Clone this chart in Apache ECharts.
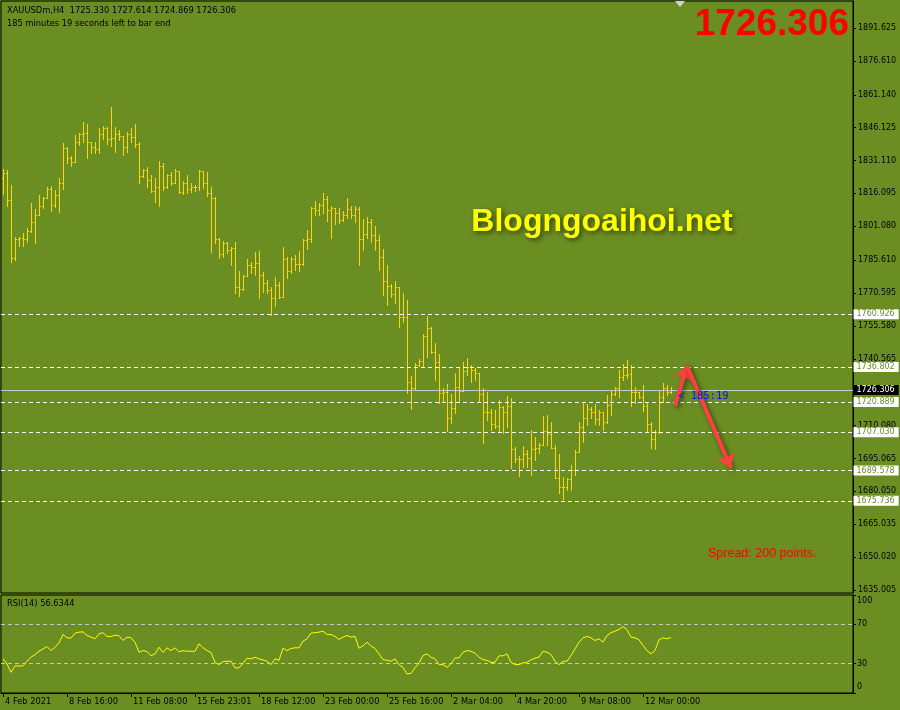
<!DOCTYPE html>
<html><head><meta charset="utf-8">
<script src="https://cdn.jsdelivr.net/npm/echarts@6/dist/echarts.min.js"></script>
<style>html,body{margin:0;padding:0;background:#6b8e23}#c{width:900px;height:710px}</style>
</head><body><div id="c"></div><script>
const symbolName = 'XAUUSDm,H4';
const xTickLabels = ['4 Feb 2021','8 Feb 16:00','11 Feb 08:00','15 Feb 23:01','18 Feb 12:00','23 Feb 00:00','25 Feb 16:00','2 Mar 04:00','4 Mar 20:00','9 Mar 08:00','12 Mar 00:00'];
const priceTicks = [1891.625,1876.610,1861.140,1846.125,1831.110,1816.095,1801.080,1785.610,1770.595,1755.580,1740.565,1725.550,1710.080,1695.065,1680.050,1665.035,1650.020,1635.005];
const rsiTicks = [100,70,30,0];
const levels = [1760.926,1736.802,1720.889,1707.030,1689.578,1675.736];
const rsiLevels = [70,30];
const opens = [1823.00,1825.28,1812.95,1786.74,1795.14,1795.87,1795.14,1798.79,1802.90,1806.24,1810.21,1814.14,1817.97,1810.80,1815.37,1820.71,1836.69,1832.13,1830.57,1839.43,1843.09,1843.54,1839.43,1837.42,1836.24,1843.09,1845.83,1840.94,1841.26,1843.09,1842.17,1837.42,1843.09,1841.72,1838.66,1824.18,1826.65,1822.08,1817.33,1818.89,1828.47,1819.16,1824.50,1820.98,1826.47,1816.88,1820.71,1817.97,1818.89,1818.89,1826.19,1820.71,1816.15,1813.86,1795.14,1788.29,1793.31,1790.25,1791.03,1773.50,1772.31,1778.38,1783.27,1782.36,1784.18,1778.70,1775.32,1771.99,1768.20,1774.14,1768.93,1786.01,1780.67,1786.28,1783.73,1783.73,1794.82,1795.14,1809.30,1808.52,1810.80,1813.41,1808.52,1809.30,1807.01,1803.95,1806.24,1808.98,1806.24,1808.84,1795.14,1797.42,1803.18,1797.10,1794.82,1786.92,1776.10,1773.82,1770.03,1773.22,1759.53,1759.80,1730.12,1727.38,1737.74,1739.57,1751.12,1754.50,1743.82,1738.98,1724.82,1725.28,1713.41,1717.97,1727.56,1725.87,1735.00,1736.97,1735.46,1733.95,1724.50,1716.28,1716.15,1710.67,1709.89,1718.43,1716.28,1719.02,1699.39,1694.68,1694.68,1696.97,1695.14,1699.39,1699.71,1701.21,1707.74,1706.10,1699.71,1686.15,1681.90,1682.17,1685.55,1689.80,1697.88,1709.30,1713.41,1717.52,1716.28,1713.09,1716.42,1711.85,1719.48,1724.50,1727.10,1732.13,1733.18,1733.50,1725.55,1725.55,1723.00,1719.16,1710.67,1703.81,1707.29,1723.00,1727.38,1725.330];
const highs = [1827.24,1826.78,1819.94,1796.05,1796.33,1798.02,1800.44,1811.85,1808.98,1815.37,1814.46,1819.02,1819.62,1817.65,1822.99,1838.98,1837.15,1833.31,1842.77,1843.54,1848.56,1847.65,1839.71,1839.71,1845.83,1846.88,1846.56,1855.55,1846.28,1845.05,1842.45,1844.00,1845.96,1847.79,1839.43,1827.24,1828.29,1824.50,1822.99,1830.89,1830.12,1824.96,1825.87,1827.10,1826.47,1821.76,1824.50,1820.71,1820.07,1826.78,1826.47,1825.87,1818.89,1814.32,1795.87,1794.50,1794.05,1791.49,1794.05,1780.67,1778.84,1786.15,1784.91,1789.48,1789.94,1780.07,1776.56,1773.50,1778.06,1775.78,1791.49,1787.20,1786.92,1787.97,1789.94,1795.14,1799.39,1810.03,1812.77,1811.85,1816.42,1814.91,1810.35,1808.52,1809.30,1808.20,1813.86,1810.35,1810.35,1810.03,1804.27,1805.46,1804.27,1801.21,1797.10,1790.57,1783.41,1774.73,1776.24,1773.50,1770.48,1767.42,1732.72,1738.52,1740.35,1751.90,1760.12,1754.96,1747.65,1742.77,1727.24,1729.07,1724.50,1733.95,1736.24,1738.98,1740.80,1737.74,1736.24,1734.23,1727.10,1725.28,1717.52,1717.20,1721.76,1719.16,1723.59,1722.54,1700.44,1696.19,1700.76,1698.93,1708.06,1704.73,1701.99,1714.46,1714.91,1711.85,1701.21,1697.11,1686.74,1686.01,1692.08,1698.93,1711.85,1720.99,1719.94,1718.70,1719.94,1717.20,1715.96,1724.05,1726.33,1727.83,1735.46,1738.20,1740.03,1737.74,1727.83,1725.55,1728.61,1720.26,1711.85,1708.06,1725.87,1729.39,1728.61,1727.614];
const lows = [1815.83,1810.48,1784.91,1785.69,1792.22,1792.22,1794.05,1798.34,1793.59,1806.24,1809.57,1815.37,1808.06,1810.03,1807.74,1818.11,1829.84,1828.75,1830.57,1838.20,1839.71,1832.13,1834.41,1834.41,1834.41,1840.80,1838.79,1837.74,1835.00,1840.48,1833.77,1835.14,1839.71,1837.42,1820.99,1823.45,1819.16,1816.60,1812.31,1810.48,1817.65,1818.43,1819.94,1820.71,1816.42,1815.96,1816.15,1816.88,1817.20,1817.65,1818.43,1814.91,1789.48,1793.31,1786.46,1787.20,1788.75,1783.41,1770.48,1769.39,1771.99,1778.84,1779.61,1778.84,1768.47,1771.21,1770.48,1760.57,1764.82,1768.20,1768.93,1777.33,1779.89,1781.12,1780.80,1783.41,1790.57,1794.05,1806.24,1806.24,1807.01,1803.50,1795.60,1801.99,1802.45,1803.63,1804.73,1804.73,1802.90,1783.41,1790.25,1795.60,1794.05,1790.25,1781.12,1769.71,1765.14,1768.93,1765.92,1755.23,1757.52,1724.82,1717.52,1726.65,1737.29,1737.29,1741.53,1743.09,1730.89,1720.53,1720.99,1707.74,1711.12,1715.69,1720.71,1726.33,1733.18,1730.12,1730.89,1721.44,1701.99,1712.63,1708.06,1708.84,1707.29,1706.55,1709.57,1690.57,1693.59,1687.06,1691.30,1691.30,1687.52,1694.36,1697.70,1706.55,1701.21,1699.71,1686.01,1679.43,1676.56,1680.67,1680.67,1687.52,1698.15,1702.72,1710.35,1713.41,1710.80,1710.35,1708.06,1711.12,1714.91,1724.05,1723.27,1730.89,1731.67,1719.02,1720.53,1722.54,1716.88,1707.61,1699.71,1699.39,1706.55,1720.99,1724.05,1724.869];
const closes = [1825.28,1812.95,1786.74,1795.14,1795.87,1795.14,1798.79,1802.90,1806.24,1810.21,1814.14,1817.97,1810.80,1815.37,1820.71,1836.69,1832.13,1830.57,1839.43,1843.09,1843.54,1839.43,1837.42,1836.24,1843.09,1845.83,1840.94,1841.26,1843.09,1842.17,1837.42,1843.09,1841.72,1838.66,1824.18,1826.65,1822.08,1817.33,1818.89,1828.47,1819.16,1824.50,1820.98,1826.47,1816.88,1820.71,1817.97,1818.89,1818.89,1826.19,1820.71,1816.15,1813.86,1795.14,1788.29,1793.31,1790.25,1791.03,1773.50,1772.31,1778.38,1783.27,1782.36,1784.18,1778.70,1775.32,1771.99,1768.20,1774.14,1768.93,1786.01,1780.67,1786.28,1783.73,1783.73,1794.82,1795.14,1809.30,1808.52,1810.80,1813.41,1808.52,1809.30,1807.01,1803.95,1806.24,1808.98,1806.24,1808.84,1795.14,1797.42,1803.18,1797.10,1794.82,1786.92,1776.10,1773.82,1770.03,1773.22,1759.53,1759.80,1730.12,1727.38,1737.74,1739.57,1751.12,1754.50,1743.82,1738.98,1724.82,1725.28,1713.41,1717.97,1727.56,1725.87,1735.00,1736.97,1735.46,1733.95,1724.50,1716.28,1716.15,1710.67,1709.89,1718.43,1716.28,1719.02,1699.39,1694.68,1694.68,1696.97,1695.14,1699.39,1699.71,1701.21,1707.74,1706.10,1699.71,1686.15,1681.90,1682.17,1685.55,1689.80,1697.88,1709.30,1713.41,1717.52,1716.28,1713.09,1716.42,1711.85,1719.48,1724.50,1727.10,1732.13,1733.18,1733.50,1725.55,1725.55,1723.00,1719.16,1710.67,1703.81,1707.29,1723.00,1727.38,1725.33,1726.306];
const rsi = [34.8,29.7,21.1,27.6,27.6,27.6,32.4,36.5,39.2,42.6,45.0,47.4,43.3,46.7,51.2,59.7,56.3,56.0,61.1,62.1,62.4,58.7,57.0,55.3,60.4,61.5,57.7,57.7,59.0,58.4,53.6,57.0,56.3,51.8,41.6,43.3,42.3,37.9,39.9,46.7,41.3,46.1,43.3,46.1,42.0,43.3,42.6,42.6,42.6,50.2,46.1,43.3,41.3,31.3,29.0,32.1,32.4,32.4,25.6,25.6,30.3,35.5,34.8,36.5,34.8,33.8,32.4,29.0,34.8,33.4,45.7,43.3,45.4,46.1,46.1,52.9,55.3,61.1,61.5,62.1,63.1,59.7,59.7,57.7,54.6,57.0,58.7,57.0,57.7,45.7,48.1,51.8,48.1,45.4,39.9,34.1,33.4,32.4,34.8,29.0,26.2,19.4,20.1,25.6,30.7,38.2,39.9,36.5,34.8,29.0,29.0,26.2,29.7,35.8,35.8,41.6,43.3,42.6,40.6,36.5,34.1,33.4,31.3,31.3,37.9,37.9,39.9,31.3,29.0,29.0,30.7,31.3,33.8,35.5,36.5,42.6,41.6,39.2,32.4,29.0,32.4,32.4,38.2,45.0,51.8,56.3,57.7,56.3,53.6,55.3,51.8,58.7,61.5,63.1,64.9,67.9,64.6,57.0,56.3,54.3,48.5,43.3,39.9,43.3,54.3,56.3,55.3,56.6344];
const arrowUp = [[167.7,1719.16],[170.7,1737.29]];
const arrowDown = [[170.7,1737.29],[182.2,1690.71]];
const countdownText = '< 185:19';

const N_CATS = 213;
const last = closes.length - 1;
const categories = Array.from({length: N_CATS}, (_, i) => (i % 16 === 0 && xTickLabels[i / 16]) ? xTickLabels[i / 16] : '');
const ohlc = closes.map((c, i) => [i, opens[i], highs[i], lows[i], c]);
const AX_FONT = 'DejaVu Sans';
const BAR = '#ffd700';

function renderBar(params, api) {
  const i = api.value(0), o = api.value(1), h = api.value(2), l = api.value(3), c = api.value(4);
  const hi = Math.max(h, o, c), lo = Math.min(l, o, c);
  const pH = api.coord([i, hi]), pL = api.coord([i, lo]);
  const x = Math.floor(pH[0]);
  const yH = Math.round(pH[1]), yL = Math.round(pL[1]);
  const yO = Math.round(api.coord([i, o])[1]), yC = Math.round(api.coord([i, c])[1]);
  const style = {fill: BAR};
  return {type: 'group', children: [
    {type: 'rect', shape: {x: x, y: yH, width: 1, height: Math.max(1, yL - yH + 1)}, style: style},
    {type: 'rect', shape: {x: x - 1, y: yO, width: 1, height: 1}, style: style},
    {type: 'rect', shape: {x: x + 1, y: yC, width: 1, height: 1}, style: style}
  ]};
}
const tickShown = (idx, val) => val !== '';
function levelLabel(v, bg, fg) {
  const txt = v.toFixed(3);
  return {show: true, position: 'end', distance: 0.5, formatter: () => txt,
    backgroundColor: bg, color: fg, fontSize: 8, fontFamily: AX_FONT, lineHeight: 9, padding: [1, 4, 0, 3]};
}

const chart = echarts.init(document.getElementById('c'), null, {renderer: 'canvas'});
chart.setOption({
  animation: false,
  backgroundColor: '#6b8e23',
  grid: [
    {left: 1, top: 1, width: 852, height: 592, show: true, borderColor: '#000', borderWidth: 1, backgroundColor: 'transparent'},
    {left: 1, top: 595, width: 852, height: 98, show: true, borderColor: '#000', borderWidth: 1, backgroundColor: 'transparent'}
  ],
  xAxis: [
    {type: 'category', gridIndex: 0, data: categories, boundaryGap: true, axisLine: {show: false}, axisTick: {show: false}, axisLabel: {show: false}, splitLine: {show: false}},
    {type: 'category', gridIndex: 1, data: categories, boundaryGap: true,
      axisLine: {show: true, lineStyle: {color: '#000', width: 1}},
      axisTick: {show: true, alignWithLabel: true, interval: tickShown, length: 4, lineStyle: {color: '#000'}},
      axisLabel: {show: true, interval: tickShown, align: 'left', margin: 5, padding: [0, 0, 0, 2], color: '#000', fontSize: 8.3, fontFamily: AX_FONT},
      splitLine: {show: false}}
  ],
  yAxis: [
    {type: 'value', gridIndex: 0, position: 'right', min: 1633.634, max: 1903.954, scale: true,
      axisLine: {show: true, lineStyle: {color: '#000'}},
      axisTick: {show: true, length: 3, customValues: priceTicks, lineStyle: {color: '#000'}},
      axisLabel: {show: true, customValues: priceTicks, margin: 5, color: '#000', fontSize: 8, fontFamily: AX_FONT, formatter: v => Number(v).toFixed(3)},
      splitLine: {show: false}},
    {type: 'value', gridIndex: 1, position: 'right', min: 0, max: 100,
      axisLine: {show: true, lineStyle: {color: '#000'}},
      axisTick: {show: true, length: 3, customValues: rsiTicks, lineStyle: {color: '#000'}},
      axisLabel: {show: true, customValues: rsiTicks, margin: 4, color: '#000', fontSize: 8, fontFamily: AX_FONT,
        formatter: v => v === 100 ? '{t|100}' : (v === 0 ? '{b|0}' : '{m|' + v + '}'),
        rich: {t: {padding: [12, 0, 0, 0], fontSize: 8, fontFamily: AX_FONT, color: '#000'}, b: {padding: [0, 0, 12, 0], fontSize: 8, fontFamily: AX_FONT, color: '#000'}, m: {fontSize: 8, fontFamily: AX_FONT, color: '#000'}}},
      splitLine: {show: false}}
  ],
  series: [
    {type: 'custom', name: 'price', xAxisIndex: 0, yAxisIndex: 0, data: ohlc, renderItem: renderBar, encode: {x: 0, y: [1, 2, 3, 4]}, clip: true, silent: true, z: 2},
    {type: 'line', name: 'levels', xAxisIndex: 0, yAxisIndex: 0, data: closes, showSymbol: false, symbol: 'none', silent: true,
      lineStyle: {opacity: 0}, z: 1,
      markLine: {silent: true, symbol: ['none', 'none'], animation: false, precision: 3,
        data: levels.map(v => ({yAxis: v, lineStyle: {color: '#ffffff', type: [4, 3], width: 1}, label: levelLabel(v, '#ffffff', '#6b8e23')})).concat([
          {yAxis: closes[last], lineStyle: {color: '#c8c8c8', type: 'solid', width: 1}, label: levelLabel(closes[last], '#000000', '#ffffff')}
        ])},
      markPoint: {silent: true, symbol: 'circle', symbolSize: 0, animation: false,
        data: [{coord: [last, closes[last]], label: {show: true, position: 'right', distance: 7, offset: [0, 6], formatter: countdownText,
          color: '#1010ff', fontSize: 10.5, fontFamily: 'DejaVu Sans Mono'}}]}
    },
    {type: 'line', name: 'arrows', xAxisIndex: 0, yAxisIndex: 0, data: closes, showSymbol: false, symbol: 'none', silent: true,
      lineStyle: {opacity: 0}, z: 5,
      markLine: {silent: true, symbol: ['none', 'arrow'], symbolSize: 14, animation: false, label: {show: false},
        lineStyle: {color: '#ff4040', width: 4, type: 'solid', shadowBlur: 5, shadowColor: 'rgba(0,0,0,0.55)', shadowOffsetX: 2, shadowOffsetY: 2},
        data: [
          [{coord: arrowUp[0]}, {coord: arrowUp[1]}],
          [{coord: arrowDown[0]}, {coord: arrowDown[1]}]
        ]}
    },
    {type: 'line', name: 'RSI(14)', xAxisIndex: 1, yAxisIndex: 1, data: rsi, showSymbol: false, symbol: 'none', silent: true,
      lineStyle: {color: '#ffff00', width: 1}, z: 3,
      markLine: {silent: true, symbol: ['none', 'none'], animation: false, label: {show: false},
        data: rsiLevels.map(v => ({yAxis: v, lineStyle: {color: '#c8c8c8', type: [4, 3], width: 1}}))}
    }
  ],
  graphic: [
    {type: 'text', z: 100, style: {x: 7, y: 11, text: symbolName + '  ' + opens[last].toFixed(3) + ' ' + highs[last].toFixed(3) + ' ' + lows[last].toFixed(3) + ' ' + closes[last].toFixed(3),
      fill: '#000', fontSize: 8.3, fontFamily: AX_FONT, verticalAlign: 'middle'}},
    {type: 'text', z: 100, style: {x: 7, y: 24, text: '185 minutes 19 seconds left to bar end', fill: '#000', fontSize: 8.3, fontFamily: AX_FONT, verticalAlign: 'middle'}},
    {type: 'text', z: 100, style: {x: 7, y: 604, text: 'RSI(14) ' + rsi[last].toFixed(4), fill: '#000', fontSize: 8.3, fontFamily: AX_FONT, verticalAlign: 'middle'}},
    {type: 'text', z: 100, style: {x: 849, y: 25, text: closes[last].toFixed(3), fill: '#ff0000', fontSize: 37, fontWeight: 'bold', fontFamily: 'Liberation Sans', align: 'right', verticalAlign: 'middle'}},
    {type: 'text', z: 100, style: {x: 602, y: 222, text: 'Blogngoaihoi.net', fill: '#ffff00', fontSize: 32, fontWeight: 'bold', fontFamily: 'Liberation Sans', align: 'center', verticalAlign: 'middle',
      textShadowColor: 'rgba(0,0,0,0.55)', textShadowBlur: 5, textShadowOffsetX: 2, textShadowOffsetY: 2}},
    {type: 'text', z: 100, style: {x: 708, y: 554, text: 'Spread: 200 points.', fill: '#ff0000', fontSize: 12.5, fontFamily: 'Liberation Sans', verticalAlign: 'middle'}},
    {type: 'polygon', z: 100, shape: {points: [[675, 1], [685, 1], [680, 7]]}, style: {fill: '#d0d0d0'}}
  ]
});
</script></body></html>
